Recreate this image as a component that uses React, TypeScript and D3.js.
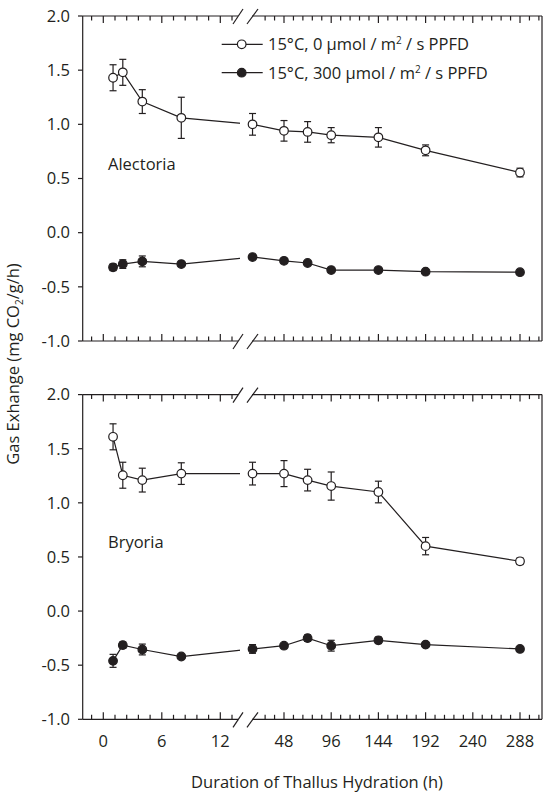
import React from 'react';
import * as d3 from 'd3';

// hours of hydration, shared by both lichens
const hours = [1, 2, 4, 8, 16, 48, 72, 96, 144, 192, 288];

// Alectoria
const alectoriaDark = [1.43, 1.48, 1.21, 1.06, 1.0, 0.94, 0.93, 0.9, 0.88, 0.76, 0.555];
const alectoriaDarkErr = [0.12, 0.12, 0.11, 0.19, 0.1, 0.095, 0.095, 0.07, 0.09, 0.05, 0.04];
const alectoriaLight = [-0.32, -0.29, -0.265, -0.29, -0.225, -0.26, -0.28, -0.345, -0.345, -0.36, -0.365];
const alectoriaLightErr = [0.03, 0.04, 0.05, 0.02, 0.02, 0.02, 0.02, 0.02, 0.02, 0.02, 0.02];

// Bryoria
const bryoriaDark = [1.61, 1.255, 1.21, 1.27, 1.27, 1.27, 1.21, 1.155, 1.1, 0.6, 0.46];
const bryoriaDarkErr = [0.12, 0.12, 0.11, 0.1, 0.105, 0.12, 0.1, 0.13, 0.1, 0.08, 0.03];
const bryoriaLight = [-0.46, -0.315, -0.355, -0.42, -0.35, -0.32, -0.25, -0.32, -0.27, -0.31, -0.35];
const bryoriaLightErr = [0.06, 0.03, 0.05, 0.02, 0.04, 0.02, 0.03, 0.05, 0.03, 0.02, 0.02];

const yTicks = [-1, -0.5, 0, 0.5, 1, 1.5, 2];
const xLabelsA = [0, 6, 12];
const xLabelsB = [48, 96, 144, 192, 240, 288];
const legendLabels = ['15°C, 0 ', '15°C, 300 '];

const W = 543;
const H = 793;
const ink = '#231f20';
const font = '"Open Sans", sans-serif';
const fs = 16.5;

const left = 82.7;
const right = 542;
const breakA = 238; // end of first axis segment
const breakB = 252; // start of second axis segment

// broken x axis: two linear pieces
const xa = d3.scaleLinear().domain([0, 12]).range([103.3, 220.3]);
const xb = d3.scaleLinear().domain([48, 288]).range([284, 520]);
const x = (h: number) => (h <= 13 ? xa(h) : xb(h));

const minorA = d3.range(-1.2, 13.3, 1.2);
const minorB = d3.range(28.8, 308, 9.6);

const panels = [
  { name: 'Alectoria', y0: 16, y1: 341, dark: alectoriaDark, darkErr: alectoriaDarkErr, light: alectoriaLight, lightErr: alectoriaLightErr, labelY: 170, legend: true, xlabels: false },
  { name: 'Bryoria', y0: 394.6, y1: 719.3, dark: bryoriaDark, darkErr: bryoriaDarkErr, light: bryoriaLight, lightErr: bryoriaLightErr, labelY: 548, legend: false, xlabels: true },
];

const Series = ({ vals, errs, y, filled }: any) => {
  const line = d3.line<number>().x((_, i) => x(hours[i])).y(d => y(d));
  return (
    <g>
      <path d={line(vals) || ''} fill="none" stroke={ink} strokeWidth={1.2} clipPath="url(#brk)" />
      {vals.map((v: number, i: number) => {
        const cx = x(hours[i]);
        return (
          <g key={i} stroke={ink} strokeWidth={1.2}>
            <line x1={cx} x2={cx} y1={y(v - errs[i])} y2={y(v + errs[i])} />
            <line x1={cx - 3.5} x2={cx + 3.5} y1={y(v - errs[i])} y2={y(v - errs[i])} />
            <line x1={cx - 3.5} x2={cx + 3.5} y1={y(v + errs[i])} y2={y(v + errs[i])} />
            <circle cx={cx} cy={y(v)} r={4.3} fill={filled ? ink : '#fff'} />
          </g>
        );
      })}
    </g>
  );
};

const HAxis = ({ yy, dir }: { yy: number; dir: number }) => (
  <g stroke={ink} strokeWidth={1.2}>
    <line x1={left} x2={breakA} y1={yy} y2={yy} />
    <line x1={breakB} x2={right} y1={yy} y2={yy} />
    {minorA.map((t, i) => {
      const major = xLabelsA.some(m => Math.abs(m - t) < 0.01);
      return <line key={'a' + i} x1={xa(t)} x2={xa(t)} y1={yy} y2={yy + dir * (major ? 7 : 4.5)} />;
    })}
    {minorB.map((t, i) => {
      const major = xLabelsB.some(m => Math.abs(m - t) < 0.01);
      return <line key={'b' + i} x1={xb(t)} x2={xb(t)} y1={yy} y2={yy + dir * (major ? 7 : 4.5)} />;
    })}
    <line x1={233} x2={243} y1={yy + 8} y2={yy - 7} fill="none" />
    <line x1={247} x2={258} y1={yy + 8} y2={yy - 7} fill="none" />
  </g>
);

const Panel = ({ p }: any) => {
  const y = d3.scaleLinear().domain([-1, 2]).range([p.y1, p.y0]);
  return (
    <g>
      <HAxis yy={p.y0} dir={1} />
      <HAxis yy={p.y1} dir={-1} />
      <line x1={left} x2={left} y1={p.y0} y2={p.y1} stroke={ink} strokeWidth={1.2} />
      <line x1={right} x2={right} y1={p.y0} y2={p.y1} stroke={ink} strokeWidth={1.2} />
      {yTicks.map(t => (
        <g key={t}>
          <line x1={left - 4.7} x2={left} y1={y(t)} y2={y(t)} stroke={ink} strokeWidth={1.2} />
          <text x={70} y={y(t) + 5.8} textAnchor="end" fontSize={fs} fill={ink}>{t.toFixed(1)}</text>
        </g>
      ))}
      {p.xlabels && [...xLabelsA.map(t => [t, xa(t)]), ...xLabelsB.map(t => [t, xb(t)])].map(([t, px]) => (
        <text key={t} x={px} y={p.y1 + 28} textAnchor="middle" fontSize={fs} fill={ink}>{t}</text>
      ))}
      <text x={108} y={p.labelY} fontSize={fs} fill={ink}>{p.name}</text>
      <Series vals={p.dark} errs={p.darkErr} y={y} filled={false} />
      <Series vals={p.light} errs={p.lightErr} y={y} filled={true} />
      {p.legend && legendLabels.map((lab, i) => {
        const ly = 44.3 + i * 28.4;
        return (
          <g key={i}>
            <line x1={221.7} x2={262.7} y1={ly} y2={ly} stroke={ink} strokeWidth={1.2} />
            <circle cx={241.7} cy={ly} r={4.3} fill={i === 1 ? ink : '#fff'} stroke={ink} strokeWidth={1.2} />
            <text x={268} y={ly + 5.8} fontSize={fs} fill={ink}>
              {lab}μmol / m<tspan dy={-6} fontSize={10}>2</tspan><tspan dy={6}> / s PPFD</tspan>
            </text>
          </g>
        );
      })}
    </g>
  );
};

export default function App() {
  return (
    <svg width={W} height={H} style={{ position: 'absolute', left: 0, top: 0, background: '#fff' }} fontFamily={font}>
      <defs>
        <clipPath id="brk" clipPathUnits="userSpaceOnUse">
          <rect x={0} y={0} width={240} height={H} />
          <rect x={248} y={0} width={W - 248} height={H} />
        </clipPath>
      </defs>
      {panels.map(p => <Panel key={p.name} p={p} />)}
      <text transform="translate(19,364) rotate(-90)" textAnchor="middle" fontSize={fs} fill={ink}>
        Gas Exhange (mg CO<tspan dy={4} fontSize={10}>2</tspan><tspan dy={-4}>/g/h)</tspan>
      </text>
      <text x={317} y={788} textAnchor="middle" fontSize={fs} fill={ink}>Duration of Thallus Hydration (h)</text>
    </svg>
  );
}
